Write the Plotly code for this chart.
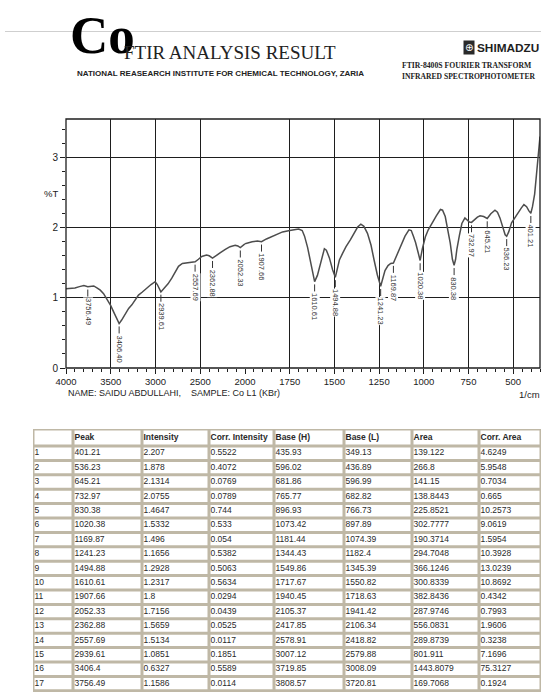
import plotly.graph_objects as go

W, H = 541, 692

# ---- spectrum (wavenumber in 1/cm, %T) ----
wavenumber = [4000, 3950, 3900, 3850, 3800, 3756.49, 3720, 3690, 3650, 3617, 3580, 3543,
              3500, 3468, 3430, 3406.4, 3380, 3338, 3300, 3264, 3230, 3190, 3150, 3097,
              3050, 3004, 2980, 2939.61, 2915, 2892, 2860, 2818, 2780, 2743, 2700, 2650,
              2600, 2557.69, 2520, 2483, 2430, 2400, 2362.88, 2330, 2279, 2220, 2167, 2110,
              2080, 2052.33, 2030, 2000, 1960, 1930, 1907.66, 1880, 1850, 1820, 1790, 1750,
              1700, 1680, 1667, 1650, 1639, 1625, 1610.61, 1595, 1583, 1570, 1556, 1545,
              1528, 1510, 1494.88, 1485, 1472, 1455, 1435, 1410, 1389, 1370, 1352, 1335,
              1315, 1295, 1278, 1260, 1241.23, 1230, 1217, 1200, 1185, 1169.87, 1150, 1130,
              1105, 1083, 1070, 1058, 1046, 1032, 1020.38, 1008, 991, 975, 954, 930, 907,
              895, 880, 865, 852, 840, 830.38, 822, 815, 800, 787, 770, 755, 745, 732.97,
              720, 700, 685, 665, 645.21, 625, 602, 588, 574, 560, 545, 536.23, 525, 509,
              490, 472, 455, 440, 425, 412, 401.21, 392, 380, 370, 362, 355, 350]
transmittance = [1.13, 1.13, 1.14, 1.16, 1.175, 1.1586, 1.17, 1.17, 1.14, 1.11, 1.06, 0.99,
                 0.89, 0.80, 0.70, 0.6327, 0.68, 0.78, 0.85, 0.90, 0.96, 1.04, 1.08, 1.14,
                 1.19, 1.23, 1.19, 1.0851, 1.12, 1.16, 1.20, 1.28, 1.36, 1.45, 1.49, 1.50,
                 1.51, 1.5134, 1.55, 1.59, 1.61, 1.60, 1.5659, 1.60, 1.64, 1.69, 1.73, 1.75,
                 1.74, 1.7156, 1.74, 1.77, 1.80, 1.81, 1.80, 1.84, 1.87, 1.91, 1.94, 1.96,
                 1.98, 1.96, 1.88, 1.72, 1.59, 1.40, 1.2317, 1.32, 1.44, 1.60, 1.70, 1.68,
                 1.57, 1.40, 1.2928, 1.40, 1.54, 1.63, 1.73, 1.83, 1.92, 2.01, 2.05, 2.02,
                 1.92, 1.75, 1.54, 1.33, 1.1656, 1.28, 1.39, 1.46, 1.49, 1.496, 1.62, 1.75,
                 1.88, 1.97, 1.96, 1.88, 1.79, 1.65, 1.5332, 1.70, 1.87, 1.97, 2.07, 2.17, 2.26,
                 2.25, 2.16, 1.98, 1.78, 1.55, 1.4647, 1.55, 1.69, 1.90, 2.06, 2.14, 2.11, 2.08, 2.0755,
                 2.11, 2.15, 2.17, 2.16, 2.1314, 2.20, 2.25, 2.22, 2.14, 2.02, 1.90, 1.878, 1.94, 2.07,
                 2.15, 2.22, 2.28, 2.33, 2.30, 2.24, 2.207, 2.30, 2.48, 2.75, 2.95, 3.15, 3.30]

# ---- peak table ----
peak = [401.21, 536.23, 645.21, 732.97, 830.38, 1020.38, 1169.87, 1241.23, 1494.88,
        1610.61, 1907.66, 2052.33, 2362.88, 2557.69, 2939.61, 3406.4, 3756.49]
intensity = [2.207, 1.878, 2.1314, 2.0755, 1.4647, 1.5332, 1.496, 1.1656, 1.2928,
             1.2317, 1.8, 1.7156, 1.5659, 1.5134, 1.0851, 0.6327, 1.1586]
corr_intensity = [0.5522, 0.4072, 0.0769, 0.0789, 0.744, 0.533, 0.054, 0.5382, 0.5063,
                  0.5634, 0.0294, 0.0439, 0.0525, 0.0117, 0.1851, 0.5589, 0.0114]
base_h = [435.93, 596.02, 681.86, 765.77, 896.93, 1073.42, 1181.44, 1344.43, 1549.86,
          1717.67, 1940.45, 2105.37, 2417.85, 2578.91, 3007.12, 3719.85, 3808.57]
base_l = [349.13, 436.89, 596.99, 682.82, 766.73, 897.89, 1074.39, 1182.4, 1345.39,
          1550.82, 1718.63, 1941.42, 2106.34, 2418.82, 2579.88, 3008.09, 3720.81]
area = [139.122, 266.8, 141.15, 138.8443, 225.8521, 302.7777, 190.3714, 294.7048, 366.1246,
        300.8339, 382.8436, 287.9746, 556.0831, 289.8739, 801.911, 1443.8079, 169.7068]
corr_area = [4.6249, 5.9548, 0.7034, 0.665, 10.2573, 9.0619, 1.5954, 10.3928, 13.0239,
             10.8692, 0.4342, 0.7993, 1.9606, 0.3238, 7.1696, 75.3127, 0.1924]
table_header = ["", "Peak", "Intensity", "Corr. Intensity", "Base (H)", "Base (L)", "Area", "Corr. Area"]

x_ticks_high = [4000, 3500, 3000, 2500, 2000]
x_ticks_low = [1750, 1500, 1250, 1000, 750, 500]

SANS = "Liberation Sans, Arial, sans-serif"
SERIF = "Liberation Serif, Times New Roman, serif"
LINE = "#4d4d4d"
GRID = "#1e1e1e"


def px(x):
    return x / W


def py(y):
    return 1 - y / H


fig = go.Figure()

# spectrum: high-wavenumber panel (x) and expanded low-wavenumber panel (x2)
hi = [(w, t) for w, t in zip(wavenumber, transmittance) if w >= 2000]
lo = [(w, t) for w, t in zip(wavenumber, transmittance) if w <= 2000]
for pts, xa in ((hi, "x"), (lo, "x2")):
    fig.add_trace(go.Scatter(x=[p[0] for p in pts], y=[p[1] for p in pts], xaxis=xa, yaxis="y",
                             mode="lines", line=dict(color=LINE, width=1.5), hoverinfo="skip",
                             showlegend=False))

# peak pick markers and rotated labels
for xa, keep in (("x", lambda w: w >= 2000), ("x2", lambda w: w < 2000)):
    sx, sy = [], []
    for w, t in zip(peak, intensity):
        if keep(w):
            sx += [w, w, None]
            sy += [t - 0.04, t - 0.14, None]
            fig.add_annotation(x=w, y=t - 0.15, xref=xa, yref="y", text=f"{w:.2f}",
                               textangle=90, showarrow=False, xanchor="center", yanchor="top",
                               font=dict(family=SANS, size=7.5, color="#333"),
                               bgcolor="white", borderpad=0)
    fig.add_trace(go.Scatter(x=sx, y=sy, xaxis=xa, yaxis="y", mode="lines",
                             line=dict(color="#333", width=1), hoverinfo="skip", showlegend=False))

# chart frame
fig.add_shape(type="rect", xref="paper", yref="paper", x0=px(66), x1=px(540),
              y0=py(368), y1=py(119), line=dict(color=GRID, width=1.3))

axis_font = dict(family=SANS, size=9.5, color="#222")
common_x = dict(showgrid=True, gridcolor=GRID, gridwidth=1, zeroline=False, showline=False,
                ticks="outside", ticklen=5, tickcolor=GRID, tickfont=axis_font, anchor="y",
                tickmode="array", automargin=False)

# ---- peak table laid out on its own axes (units = pixels) ----
col_width = [40, 69, 67, 65, 70, 68, 67, 62]
header_h, row_h = 17, 14.4
col_edges = [0]
for cw in col_width:
    col_edges.append(col_edges[-1] + cw)
n_rows = len(peak)
row_edges = [0, header_h] + [header_h + row_h * (i + 1) for i in range(n_rows)]
table_w = col_edges[-1]
table_h = 263

fig.update_layout(
    width=W, height=H, autosize=False,
    margin=dict(l=0, r=0, t=0, b=0, pad=0, autoexpand=False),
    paper_bgcolor="white", plot_bgcolor="white",
    xaxis=dict(domain=[px(66), px(245)], range=[4000, 2000], tickvals=x_ticks_high,
               minor=dict(dtick=100, tick0=0, ticks="outside", ticklen=3, tickcolor=GRID,
                          showgrid=False), **common_x),
    xaxis2=dict(domain=[px(245), px(540)], range=[2000, 350], tickvals=x_ticks_low,
                minor=dict(dtick=50, tick0=0, ticks="outside", ticklen=3, tickcolor=GRID,
                           showgrid=False), **common_x),
    yaxis=dict(domain=[py(368), py(119)], range=[0, 3.55], tickmode="linear", tick0=0, dtick=1,
               showgrid=True, gridcolor=GRID, gridwidth=1, zeroline=False, showline=False,
               ticks="outside", ticklen=5, tickcolor=GRID, automargin=False,
               tickfont=dict(family=SANS, size=10, color="#222"), anchor="x",
               minor=dict(dtick=0.2, ticks="outside", ticklen=3, tickcolor=GRID, showgrid=False)),
    xaxis3=dict(domain=[px(33), 1], range=[0, table_w], visible=False, anchor="y3",
                fixedrange=True, automargin=False),
    yaxis3=dict(domain=[0, py(429)], range=[table_h, 0], visible=False, anchor="x3",
                fixedrange=True, automargin=False),
)

# table grid
gx, gy = [], []
for ry in row_edges:
    gx += [0, table_w, None]
    gy += [ry, ry, None]
for cx in col_edges:
    gx += [cx, cx, None]
    gy += [0, row_edges[-1], None]
fig.add_trace(go.Scatter(x=gx, y=gy, xaxis="x3", yaxis="y3", mode="lines",
                         line=dict(color="#bfb8a6", width=3), hoverinfo="skip", showlegend=False))

# table text
columns = [
    [str(i + 1) for i in range(n_rows)],
    [str(v) for v in peak],
    [str(v) for v in intensity],
    [str(v) for v in corr_intensity],
    [str(v) for v in base_h],
    [str(v) for v in base_l],
    [str(v) for v in area],
    [str(v) for v in corr_area],
]
row_mid = [header_h + row_h * (i + 0.5) for i in range(n_rows)]
for c, vals in enumerate(columns):
    fig.add_trace(go.Scatter(
        x=[col_edges[c] + 1.5] * (n_rows + 1), y=[header_h / 2] + row_mid,
        xaxis="x3", yaxis="y3", mode="text",
        text=[f"<b>{table_header[c]}</b>" if table_header[c] else ""] + vals,
        textposition="middle right", textfont=dict(family=SANS, size=8.5, color="#2a2a2a"),
        hoverinfo="skip", showlegend=False, cliponaxis=False))

# report header
fig.add_shape(type="line", xref="paper", yref="paper", x0=px(5), x1=1, y0=py(31.5), y1=py(31.5),
              line=dict(color="#cfcfcf", width=1))


def text(x, y, s, size, family=SANS, color="#222", xanchor="left", bold=False):
    fig.add_annotation(x=px(x), y=py(y), xref="paper", yref="paper", showarrow=False,
                       text=f"<b>{s}</b>" if bold else s, xanchor=xanchor, yanchor="middle",
                       font=dict(family=family, size=size, color=color), borderpad=0)


text(69, 35, "Co", 53, family=SERIF, color="#000", bold=True)
text(123, 52, "FTIR ANALYSIS RESULT", 19, family=SERIF, color="#222")
text(220, 74, "NATIONAL REASEARCH INSTITUTE FOR CHEMICAL TECHNOLOGY, ZARIA", 8,
     xanchor="center", color="#222", bold=True)
fig.add_annotation(x=px(469), y=py(47.5), xref="paper", yref="paper", showarrow=False,
                   text="⊕", font=dict(family="DejaVu Sans", size=10, color="white"),
                   bgcolor="#2a2a2a", borderpad=1, xanchor="center", yanchor="middle")
text(540, 48, "SHIMADZU", 11.8, color="#1e1e1e", bold=True, xanchor="right")
text(401, 66, "FTIR-8400S FOURIER TRANSFORM", 7.7, family=SERIF, color="#222", bold=True)
text(401, 77, "INFRARED SPECTROPHOTOMETER", 7.6, family=SERIF, color="#222", bold=True)

# chart captions
text(43, 193, "%T", 9.5)
text(67, 393, "NAME: SAIDU ABDULLAHI,", 9)
text(190, 393, "SAMPLE: Co L1 (KBr)", 9)
text(541, 394, "1/cm", 9.5, xanchor="right")

fig.write_html("out.html", post_script="document.body.style.margin='0';")
